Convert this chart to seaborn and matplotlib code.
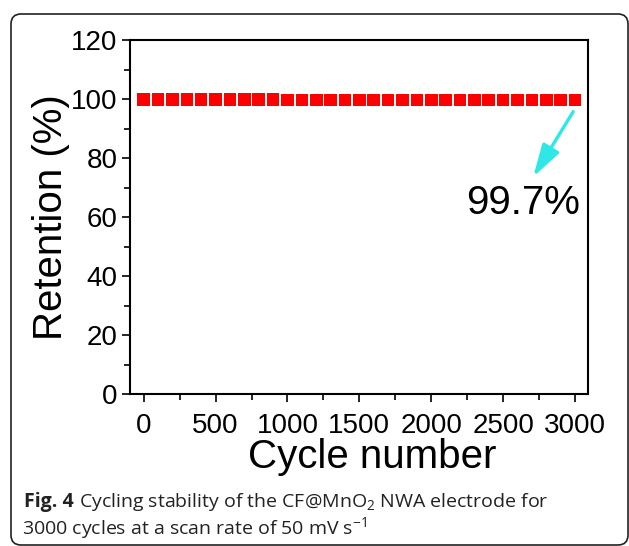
import matplotlib
matplotlib.use("Agg")
import matplotlib.pyplot as plt
import seaborn as sns
import pandas as pd
from matplotlib.patches import FancyBboxPatch
from matplotlib.ticker import MultipleLocator

# ---- data ----
cycles = [0, 100, 200, 300, 400, 500, 600, 700, 800, 900, 1000,
          1100, 1200, 1300, 1400, 1500, 1600, 1700, 1800, 1900, 2000,
          2100, 2200, 2300, 2400, 2500, 2600, 2700, 2800, 2900, 3000]
retention = [99.8, 99.8, 99.8, 99.8, 99.8, 99.8, 99.8, 99.8, 99.8, 99.8, 99.7,
             99.7, 99.7, 99.7, 99.7, 99.7, 99.7, 99.7, 99.7, 99.7, 99.7,
             99.7, 99.7, 99.7, 99.7, 99.7, 99.7, 99.7, 99.7, 99.7, 99.7]
x_ticks = [0, 500, 1000, 1500, 2000, 2500, 3000]
y_ticks = [0, 20, 40, 60, 80, 100, 120]
annot_text = "99.7%"
x_label = "Cycle number"
y_label = "Retention (%)"
caption_bold = "Fig. 4"
caption_1 = r"Cycling stability of the CF@MnO$\mathregular{_2}$ NWA electrode for"
caption_2 = r"3000 cycles at a scan rate of 50 mV s$\mathregular{^{-1}}$"

df = pd.DataFrame({"cycle": cycles, "retention": retention})

sns.set_style("ticks")
plt.rcParams["font.family"] = ["Liberation Sans", "DejaVu Sans"]
plt.rcParams["text.color"] = "black"
plt.rcParams["axes.labelcolor"] = "black"
plt.rcParams["xtick.color"] = "black"
plt.rcParams["ytick.color"] = "black"
plt.rcParams["axes.edgecolor"] = "black"

W, H = 629, 546
fig = plt.figure(figsize=(W / 100, H / 100), dpi=100)
fig.patch.set_facecolor("white")

# rounded frame
frame = FancyBboxPatch((11 / 100, 1 / 100), (628 - 11) / 100, (545 - 14) / 100,
                       boxstyle="round,pad=0,rounding_size=0.1",
                       transform=fig.dpi_scale_trans, facecolor="none",
                       edgecolor="#222222", linewidth=1.2)
fig.add_artist(frame)

ax = fig.add_axes([130 / W, 1 - 394 / H, (588 - 130) / W, (394 - 40) / H])
sns.scatterplot(data=df, x="cycle", y="retention", marker="s", s=82,
                color="#ff0000", edgecolor="none", linewidth=0, ax=ax, zorder=3)

ax.set_xlim(-95, 3090)
ax.set_ylim(0, 120)
ax.set_xticks(x_ticks)
ax.set_yticks(y_ticks)
ax.xaxis.set_minor_locator(MultipleLocator(250))
ax.yaxis.set_minor_locator(MultipleLocator(10))
ax.tick_params(which="major", direction="out", length=6, width=1.2,
               labelsize=20, color="black", labelcolor="black")
ax.tick_params(axis="x", which="major", pad=8)
ax.tick_params(axis="y", which="major", pad=3)
ax.tick_params(which="minor", direction="out", length=4, width=1.2, color="black")
for sp in ax.spines.values():
    sp.set_visible(True)
    sp.set_linewidth(1.5)
    sp.set_color("black")

ax.set_xlabel(x_label, fontsize=29, color="black")
ax.set_ylabel(y_label, fontsize=29, color="black")
ax.xaxis.set_label_coords(0.528, -0.124)
ax.yaxis.set_label_coords(-0.132, 0.5)

ax.annotate("", xy=(2709, 73.6), xytext=(2987, 95.7),
            arrowprops=dict(arrowstyle="-|>,head_length=1.1,head_width=0.32",
                            mutation_scale=18, color="#2ee8e8", lw=2.4,
                            shrinkA=0, shrinkB=0))
ax.text(2639, 61.1, annot_text, ha="center", va="baseline", fontsize=29,
        color="black")

cap_fs = 14.0
t_bold = fig.text(24 / W, 1 - 507 / H, caption_bold, fontsize=cap_fs,
                  family="Open Sans", weight="bold", ha="left",
                  va="baseline", color="#222222")
fig.canvas.draw()
bb = t_bold.get_window_extent()
fig.text((bb.x1 + 5) / W, 1 - 507 / H, caption_1, fontsize=cap_fs,
         family="Open Sans", ha="left", va="baseline", color="#222222")
fig.text(22 / W, 1 - 534 / H, caption_2, fontsize=cap_fs, family="Open Sans",
         ha="left", va="baseline", color="#222222")

fig.savefig("out.png", dpi=100)
